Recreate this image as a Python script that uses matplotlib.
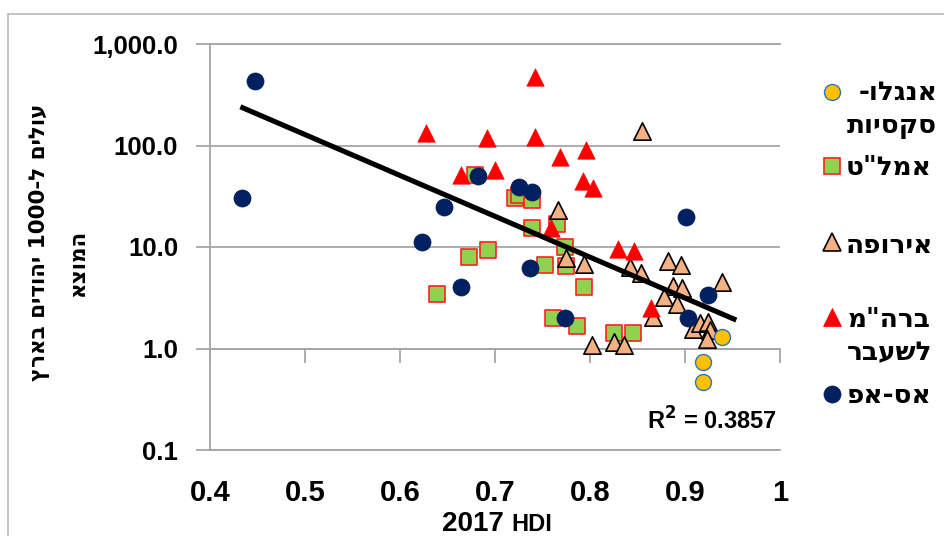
import re
import matplotlib
matplotlib.use("Agg")
import matplotlib.pyplot as plt
from matplotlib.ticker import FuncFormatter, FixedLocator, NullFormatter, NullLocator
from matplotlib.lines import Line2D
import numpy as np

# ---------------- data ----------------
anglo_x = [0.939, 0.919, 0.919]
anglo_y = [1.30, 0.736, 0.468]

amlat_x = [0.639, 0.673, 0.693, 0.679, 0.721, 0.725, 0.739, 0.739, 0.765,
           0.774, 0.753, 0.775, 0.794, 0.761, 0.786, 0.825, 0.845]
amlat_y = [3.44, 7.97, 9.34, 51.2, 30.4, 32.5, 29.0, 15.4, 16.9,
           10.0, 6.65, 6.50, 4.04, 2.00, 1.67, 1.42, 1.42]

europe_x = [0.855, 0.766, 0.775, 0.794, 0.802, 0.825, 0.836, 0.842, 0.854,
            0.866, 0.882, 0.896, 0.887, 0.897, 0.878, 0.892, 0.908, 0.916,
            0.924, 0.926, 0.923, 0.939]
europe_y = [139, 23.1, 7.79, 6.80, 1.08, 1.16, 1.08, 6.35, 5.54,
            2.04, 7.28, 6.65, 4.13, 3.95, 3.22, 2.74, 1.56, 1.78,
            1.82, 1.52, 1.24, 4.52]

ussr_x = [0.627, 0.664, 0.692, 0.700, 0.742, 0.742, 0.768, 0.796, 0.793,
          0.803, 0.759, 0.829, 0.846, 0.864]
ussr_y = [133, 51.2, 118.6, 57.4, 473, 121, 77, 90.3, 44.7,
          38.1, 15.4, 9.56, 9.13, 2.51]

asaf_x = [0.447, 0.434, 0.623, 0.646, 0.664, 0.682, 0.725, 0.739, 0.737,
          0.774, 0.901, 0.924, 0.903]
asaf_y = [432, 30.4, 11.2, 24.8, 4.04, 50.1, 39.0, 34.8, 6.21,
          2.00, 19.8, 3.37, 2.00]

# exponential trendline y = a * exp(b * x)
trend_a = 1.32e4
trend_b = -9.27
trend_x_range = [0.432, 0.954]
r2_text = "R$^{\\mathbf{2}}$ = 0.3857"

x_ticks = [0.4, 0.5, 0.6, 0.7, 0.8, 0.9, 1.0]
x_tick_labels = ["0.4", "0.5", "0.6", "0.7", "0.8", "0.9", "1"]
y_ticks = [0.1, 1, 10, 100, 1000]

series_names = ["אנגלו-\nסקסיות", "אמל\"ט", "אירופה", "ברה\"מ\nלשעבר", "אס-אפ"]
y_label_lines = ["עולים ל-1000 יהודים בארץ", "המוצא"]
x_label_main = "2017"
x_label_sub = "HDI"


def vis(s):
    """Logical RTL string -> visual LTR order (digits runs kept)."""
    r = s[::-1]
    return re.sub(r"\d+", lambda m: m.group(0)[::-1], r)


HEB = ["DejaVu Sans"]
LAT = ["Liberation Sans"]

W, H = 944, 536
fig = plt.figure(figsize=(W / 100, H / 100), dpi=100)
ax = fig.add_axes([210 / W, 1 - 450 / H, 570 / W, 406 / H])

GRID = "#a6a6a6"
ax.set_xlim(0.4, 1.0)
ax.set_yscale("log")
ax.set_ylim(0.1, 1000)

# series
ax.scatter(amlat_x, amlat_y, marker="s", s=11.5 ** 2, facecolor="#92d050",
           edgecolor="#ff2020", linewidth=1.2, zorder=3)
ax.scatter(europe_x, europe_y, marker="^", s=12.5 ** 2, facecolor="#f4b183",
           edgecolor="black", linewidth=1.2, zorder=4)
ax.scatter(ussr_x, ussr_y, marker="^", s=12.5 ** 2, facecolor="#ff0000",
           edgecolor="#ff0000", linewidth=0.5, zorder=5)
ax.scatter(asaf_x, asaf_y, marker="o", s=12.3 ** 2, facecolor="#002060",
           edgecolor="#002060", linewidth=0.5, zorder=6)
ax.scatter(anglo_x, anglo_y, marker="o", s=11.5 ** 2, facecolor="#ffc000",
           edgecolor="#2e75b6", linewidth=1.0, zorder=7)

tx = np.linspace(trend_x_range[0], trend_x_range[1], 100)
ax.plot(tx, trend_a * np.exp(trend_b * tx), color="black", lw=3.7,
        solid_capstyle="butt", zorder=8)

ax.text(712 / W, 1 - 421 / H, r2_text, transform=fig.transFigure,
        ha="center", va="center", fontsize=17, fontweight="bold", family=LAT)

# axes styling
ax.spines["right"].set_visible(False)
for side in ["left", "bottom", "top"]:
    ax.spines[side].set_color(GRID)
    ax.spines[side].set_linewidth(1.3)

ax.yaxis.set_major_locator(FixedLocator(y_ticks))
ax.yaxis.set_minor_locator(NullLocator())
ax.yaxis.set_major_formatter(FuncFormatter(lambda v, p: f"{v:,.1f}"))
ax.yaxis.grid(True, which="major", color=GRID, lw=1.3)
ax.tick_params(axis="y", which="major", direction="out", length=10,
               width=1.3, color=GRID, pad=13, labelsize=18.5)
for lab in ax.get_yticklabels():
    lab.set_fontweight("bold")
    lab.set_family(LAT)

ax.set_xticks(x_ticks)
ax.set_xticklabels(x_tick_labels)
ax.tick_params(axis="x", length=0, pad=21, labelsize=21)
for lab in ax.get_xticklabels():
    lab.set_fontweight("bold")
    lab.set_family(LAT)

# horizontal axis crossing at y = 1 with outward ticks
sec = ax.secondary_xaxis(0.25)
sec.set_xticks(x_ticks)
sec.xaxis.set_major_formatter(NullFormatter())
sec.tick_params(axis="x", direction="out", length=10, width=1.3, color=GRID)
for side in sec.spines:
    sec.spines[side].set_visible(False)
sec.spines["bottom"].set_visible(True)
sec.spines["bottom"].set_color(GRID)
sec.spines["bottom"].set_linewidth(1.3)

# axis titles
fig.text(40 / W, 1 - 242 / H, vis(y_label_lines[0]), rotation=90,
         ha="center", va="center", fontsize=15.5, fontweight="bold", family=HEB)
fig.text(78 / W, 1 - 263 / H, vis(y_label_lines[1]), rotation=90,
         ha="center", va="center", fontsize=15.5, fontweight="bold", family=HEB)
fig.text(504 / W, 1 - 531 / H, x_label_main, ha="right", va="baseline",
         fontsize=20, fontweight="bold", family=LAT)
fig.text(511 / W, 1 - 531 / H, x_label_sub, ha="left", va="baseline",
         fontsize=17, fontweight="bold", family=LAT)

# legend (manual)
leg_styles = [
    dict(marker="o", ms=11.5, mfc="#ffc000", mec="#2e75b6", mew=1.0),
    dict(marker="s", ms=11.5, mfc="#92d050", mec="#ff2020", mew=1.2),
    dict(marker="^", ms=12.5, mfc="#f4b183", mec="black", mew=1.2),
    dict(marker="^", ms=12.5, mfc="#ff0000", mec="#ff0000", mew=0.5),
    dict(marker="o", ms=12.3, mfc="#002060", mec="#002060", mew=0.5),
]
leg_marker_y = [92, 166, 242, 317, 394]
leg_text_base = [[100, 133], [175], [253], [327, 360], [403]]
for name, st, my, bases in zip(series_names, leg_styles, leg_marker_y, leg_text_base):
    fig.add_artist(Line2D([832 / W], [1 - my / H], transform=fig.transFigure,
                          linestyle="none", **st))
    lines = name.split("\n")
    for ln, b in zip(lines, bases):
        if name.startswith("אנגלו"):
            fig.text(937 / W, 1 - b / H, vis(ln), ha="right", va="baseline",
                     fontsize=19, fontweight="bold", family=HEB)
        else:
            fig.text(889 / W, 1 - b / H, vis(ln), ha="center", va="baseline",
                     fontsize=19, fontweight="bold", family=HEB)

# outer chart border
BORDER = "#bfbfbf"
fig.add_artist(Line2D([8 / W, 8 / W], [0, 1 - 14 / H], transform=fig.transFigure,
                      color=BORDER, lw=1.3))
fig.add_artist(Line2D([8 / W, 1], [1 - 14 / H, 1 - 14 / H], transform=fig.transFigure,
                      color=BORDER, lw=1.3))

fig.savefig("out.png", dpi=100)
